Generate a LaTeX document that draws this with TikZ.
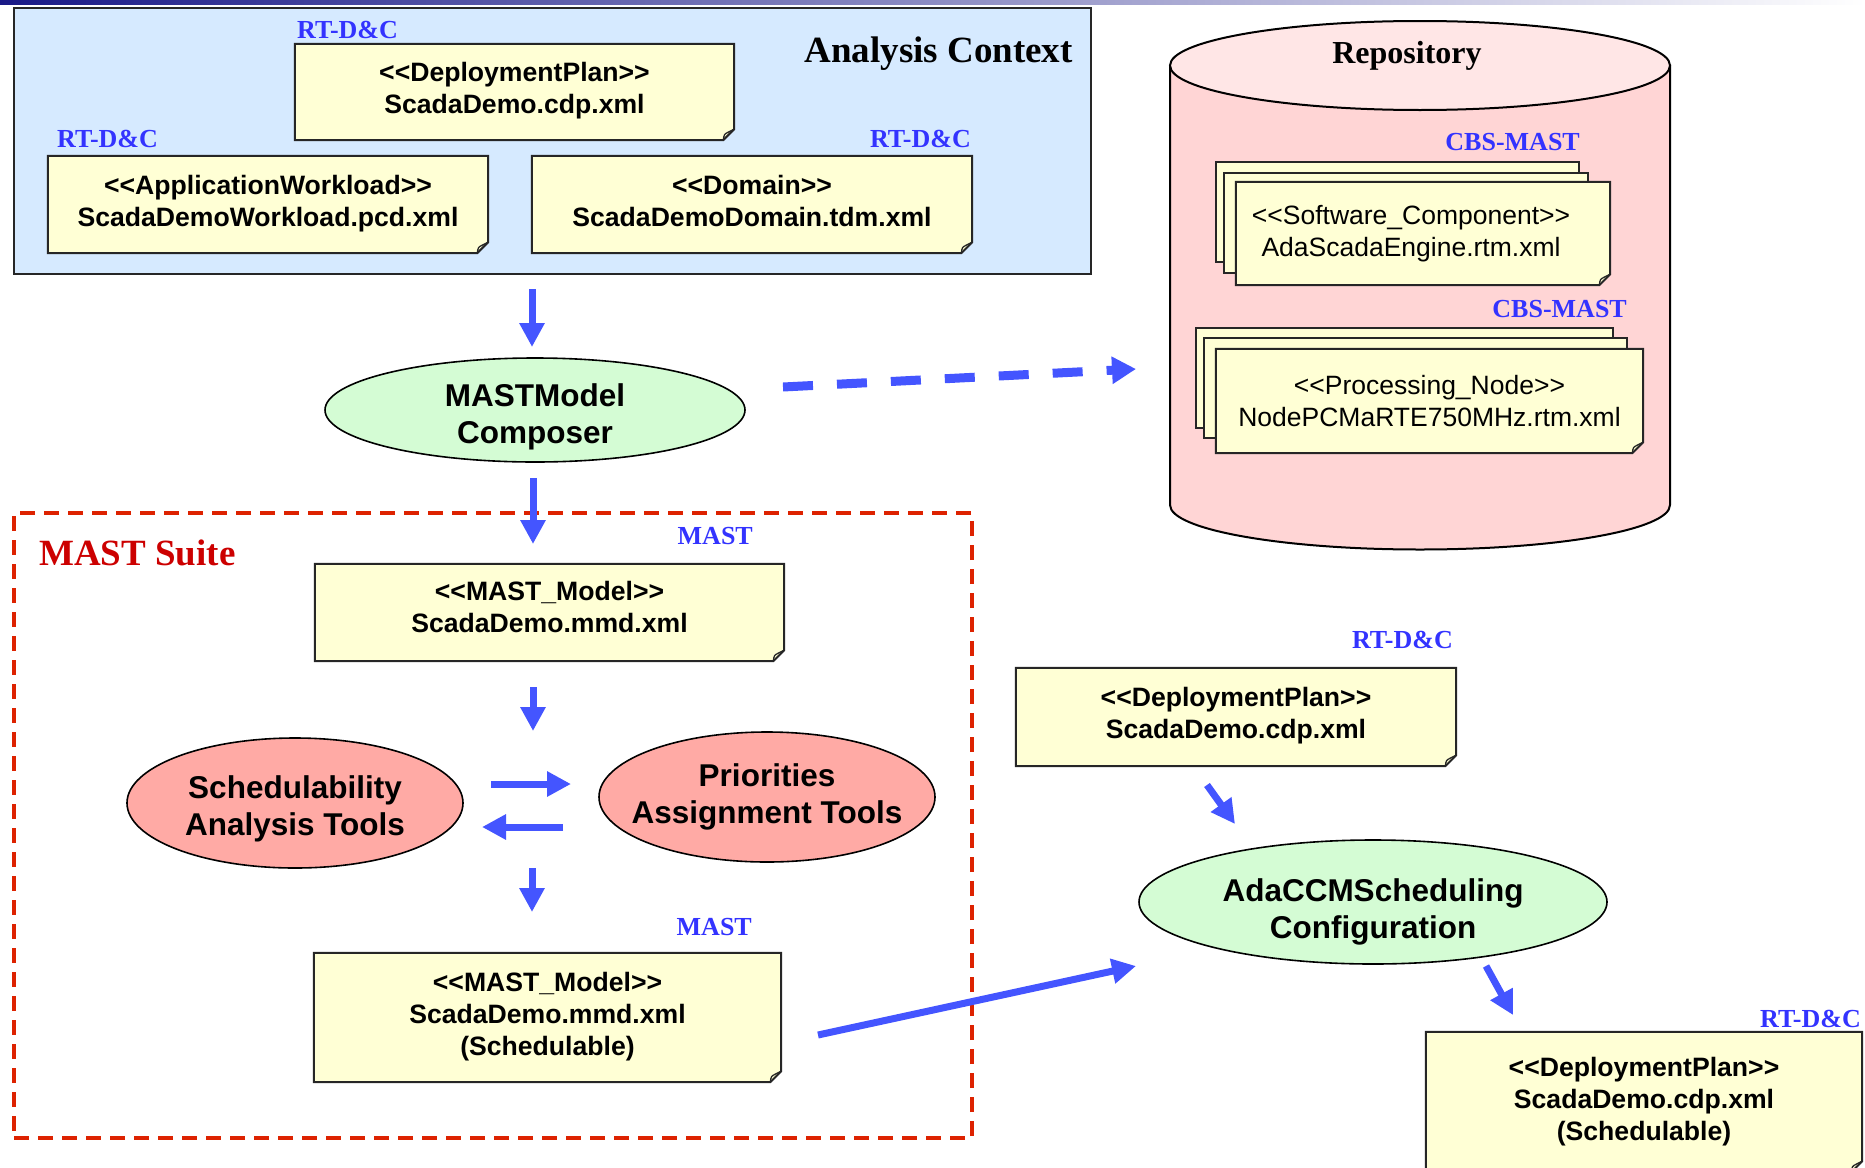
\documentclass[tikz,border=0pt]{standalone}
\usepackage{fontspec}
\setmainfont{Liberation Serif}
\newfontfamily\arialfam{Liberation Sans}
\newfontfamily\timesfam{Liberation Serif}
\usetikzlibrary{arrows.meta,shapes.geometric}

\definecolor{ctxfill}{RGB}{214,234,255}
\definecolor{paper}{RGB}{255,255,213}
\definecolor{mint}{RGB}{212,252,212}
\definecolor{salmon}{RGB}{255,170,165}
\definecolor{repoSide}{RGB}{255,213,213}
\definecolor{repoTop}{RGB}{255,230,230}
\definecolor{flowblue}{RGB}{68,85,255}
\definecolor{tagblue}{RGB}{51,51,255}
\definecolor{suitered}{RGB}{221,34,0}
\definecolor{titlered}{RGB}{204,0,0}
\definecolor{barnavy}{RGB}{25,25,135}

\pgfdeclarelayer{back}
\pgfdeclarelayer{mid}
\pgfsetlayers{back,mid,main}

% document sheet with a folded bottom-right corner, drawn over the area of node #1
\newcommand\paperof[1]{%
  \filldraw[paperline] (#1.north west) -- (#1.north east)
    -- ([yshift=11pt]#1.south east) -- ([xshift=-11pt]#1.south east)
    -- (#1.south west) -- cycle;
  \draw[foldline] ([xshift=-11pt]#1.south east)
    .. controls ([xshift=-10pt,yshift=6pt]#1.south east) .. ([xshift=-6pt,yshift=8pt]#1.south east)
    -- ([yshift=11pt]#1.south east);}

\begin{document}
\begin{tikzpicture}[x=1pt,y=-1pt,
  paperline/.style={fill=paper, draw=black!85, line width=2pt, line join=miter},
  foldline/.style={draw=black!85, line width=1.3pt},
  sheet/.style={fill=paper, draw=black!85, line width=2pt},
  docbox/.style={rectangle, inner sep=0pt},
  doc/.style={inner sep=0pt, align=center, font=\arialfam\bfseries\fontsize{26.6}{32}\selectfont},
  docplain/.style={inner sep=0pt, align=center, font=\arialfam\fontsize{26.5}{32}\selectfont},
  tag/.style={inner sep=0pt, text=tagblue, font=\timesfam\bfseries\fontsize{26}{30}\selectfont},
  tool/.style={ellipse, draw=black, line width=1.6pt, inner sep=0pt},
  toolname/.style={inner sep=0pt, align=center, font=\arialfam\bfseries\fontsize{31.5}{37}\selectfont},
  flow/.style={draw=flowblue, line width=7pt, -{Triangle[length=24pt,width=24pt]}},
  lookup/.style={draw=flowblue, line width=9pt, dash pattern=on 30pt off 24pt,
                 -{Triangle[length=24pt,width=26pt]}}]

\useasboundingbox (0,0) rectangle (1865,1167);

% title bar
\shade[left color=barnavy, right color=white] (0,0) rectangle (1865,4);

% ---------- Analysis Context ----------
\begin{pgfonlayer}{back}
\node[draw=black!85, line width=2pt, fill=ctxfill, minimum width=1077pt, minimum height=266pt,
      inner sep=0pt] (ctx) at (552.5,141) {};
\end{pgfonlayer}
\node[anchor=base east, inner sep=0pt, font=\timesfam\bfseries\fontsize{37}{40}\selectfont]
      (ctxtitle) at (1073,62) {Analysis Context};

\node[docbox, minimum width=439pt, minimum height=96pt] (dp1) at (514.5,92) {};
\node[doc] (dp1-t) at (514.5,91) {<<DeploymentPlan>>\\ScadaDemo.cdp.xml};
\node[docbox, minimum width=440pt, minimum height=97pt] (aw) at (268,204.5) {};
\node[doc] (aw-t) at (268,203.5) {<<ApplicationWorkload>>\\ScadaDemoWorkload.pcd.xml};
\node[docbox, minimum width=440pt, minimum height=97pt] (dom) at (752,204.5) {};
\node[doc] (dom-t) at (752,201) {<<Domain>>\\ScadaDemoDomain.tdm.xml};
\node[tag, anchor=west] (t1) at (297,30) {RT-D\&C};
\node[tag, anchor=west] (t2) at (57,139) {RT-D\&C};
\node[tag, anchor=east] (t3) at (971,139) {RT-D\&C};

% ---------- Repository ----------
\begin{pgfonlayer}{back}
  \filldraw[fill=repoSide, draw=black, line width=2pt]
    (1170,65.5) -- (1170,505) arc[start angle=180, end angle=360, x radius=250pt, y radius=44.5pt]
    -- (1670,65.5) -- cycle;
  \filldraw[fill=repoTop, draw=black, line width=2pt] (1420,65.5) ellipse [x radius=250pt, y radius=44.5pt];
\end{pgfonlayer}
\node[anchor=base, inner sep=0pt, font=\timesfam\bfseries\fontsize{32}{36}\selectfont]
      (repo) at (1407,63.5) {Repository};

\node[tag, anchor=east] (t4) at (1580,142) {CBS-MAST};
\node[docbox, minimum width=374pt, minimum height=103pt] (sw) at (1423,233.5) {};
\node[docplain] (sw-t) at (1411,233.5) {<<Software\_Component>>\\AdaScadaEngine.rtm.xml};
\node[tag, anchor=east] (t5) at (1627,309) {CBS-MAST};
\node[docbox, minimum width=427pt, minimum height=104pt] (pn) at (1429.5,401) {};
\node[docplain] (pn-t) at (1429.5,401) {<<Processing\_Node>>\\NodePCMaRTE750MHz.rtm.xml};

% ---------- Composer ----------
\node[tool, fill=mint, minimum width=420pt, minimum height=104pt] (comp) at (535,410) {};
\node[toolname] (comp-t) at (535,417) {MASTModel\\Composer};

% ---------- MAST Suite ----------
\begin{pgfonlayer}{back}
  \node[draw=suitered, line width=3.5pt, dash pattern=on 15pt off 9pt,
        minimum width=958pt, minimum height=625pt, inner sep=0pt] (suite) at (493,825.5) {};
\end{pgfonlayer}
\node[anchor=base west, inner sep=0pt, text=titlered, font=\timesfam\bfseries\fontsize{37}{40}\selectfont]
      (suitetitle) at (39,565) {MAST Suite};

\node[tag, anchor=east] (t6) at (753,536) {MAST};
\node[docbox, minimum width=469pt, minimum height=97pt] (mm1) at (549.5,612.5) {};
\node[doc] (mm1-t) at (549.5,606.5) {<<MAST\_Model>>\\ScadaDemo.mmd.xml};

\node[tool, fill=salmon, minimum width=336pt, minimum height=130pt] (sat) at (295,803) {};
\node[toolname] (sat-t) at (295,809) {Schedulability\\Analysis Tools};
\node[tool, fill=salmon, minimum width=336pt, minimum height=130pt] (pat) at (767,797) {};
\node[toolname] (pat-t) at (767,797) {Priorities\\Assignment Tools};

\node[tag, anchor=east] (t7) at (752,927) {MAST};
\node[docbox, minimum width=467pt, minimum height=129pt] (mm2) at (547.5,1017.5) {};
\node[doc] (mm2-t) at (547.5,1016.5) {<<MAST\_Model>>\\ScadaDemo.mmd.xml\\(Schedulable)};

% ---------- Scheduling configuration ----------
\node[tag, anchor=east] (t8) at (1453,640) {RT-D\&C};
\node[docbox, minimum width=440pt, minimum height=98pt] (dp2) at (1236,717) {};
\node[doc] (dp2-t) at (1236,716) {<<DeploymentPlan>>\\ScadaDemo.cdp.xml};

\node[tool, fill=mint, minimum width=468pt, minimum height=124pt] (ada) at (1373,902) {};
\node[toolname] (ada-t) at (1373,911.5) {AdaCCMScheduling\\Configuration};

\node[tag, anchor=east] (t9) at (1861,1019) {RT-D\&C};
\node[docbox, minimum width=436pt, minimum height=140pt] (dp3) at (1644,1102) {};
\node[doc] (dp3-t) at (1644,1102) {<<DeploymentPlan>>\\ScadaDemo.cdp.xml\\(Schedulable)};

% sheets behind the texts
\begin{pgfonlayer}{mid}
  \paperof{dp1}\paperof{aw}\paperof{dom}
  \draw[sheet] (1216,162) rectangle (1579,262);
  \draw[sheet] (1224,173) rectangle (1588,273);
  \paperof{sw}
  \draw[sheet] (1196,328) rectangle (1613,428);
  \draw[sheet] (1204,338) rectangle (1627,438);
  \paperof{pn}
  \paperof{mm1}\paperof{mm2}\paperof{dp2}\paperof{dp3}
\end{pgfonlayer}

% ---------- connectors ----------
\coordinate (ctxout) at (532,289);   \coordinate (compin) at (532,347);
\coordinate (compout) at (783,387);  \coordinate (repoin) at (1136,369);
\coordinate (compdown) at (533,478); \coordinate (mm1in) at (533,544);
\coordinate (mm1out) at (533,687);   \coordinate (toolsin) at (533,731);
\coordinate (satout) at (491,784);   \coordinate (patin) at (571,784);
\coordinate (patout) at (563,827);   \coordinate (satin) at (482,827);
\coordinate (toolsout) at (532,868); \coordinate (mm2in) at (532,912);
\coordinate (mm2out) at (818,1035);  \coordinate (adain) at (1136,966);
\coordinate (dp2out) at (1207,785);  \coordinate (adatop) at (1235,824);
\coordinate (adaout) at (1486,966);  \coordinate (dp3in) at (1513,1015);

\draw[flow] (ctxout) -- (compin);
\draw[lookup] (compout) -- (repoin);
\draw[flow] (compdown) -- (mm1in);
\draw[flow] (mm1out) -- (toolsin);
\draw[flow] (satout) -- (patin);
\draw[flow] (patout) -- (satin);
\draw[flow] (toolsout) -- (mm2in);
\draw[flow] (mm2out) -- (adain);
\draw[flow] (dp2out) -- (adatop);
\draw[flow] (adaout) -- (dp3in);

\end{tikzpicture}
\end{document}
